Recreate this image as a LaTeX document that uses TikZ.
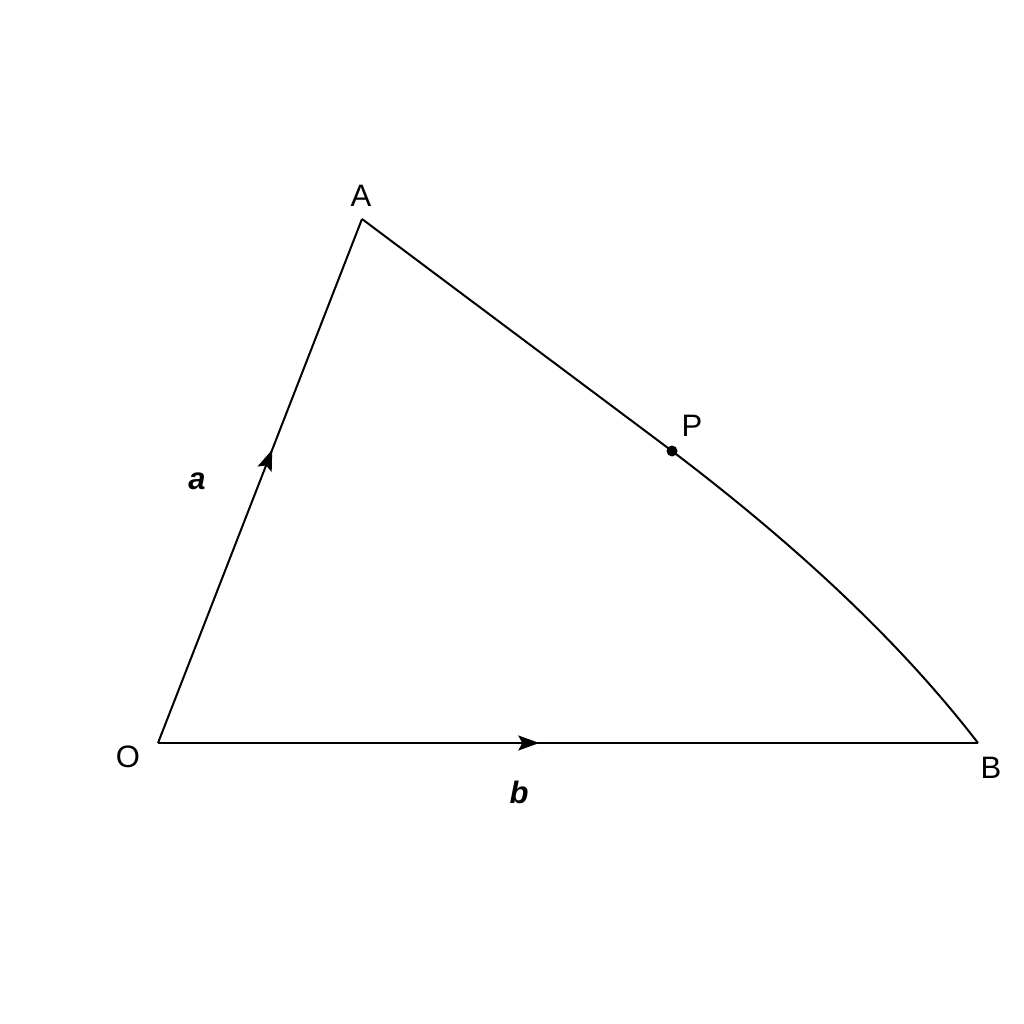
\documentclass[tikz,border=0pt]{standalone}
\usepackage{fontspec}
\setmainfont{Liberation Sans}
\usetikzlibrary{arrows.meta,decorations.markings}
\tikzset{
  edge/.style={line width=2pt, line join=miter},
  lbl/.style={font=\fontsize{31}{37}\selectfont, inner sep=0pt},
  vlbl/.style={font=\fontsize{31}{37}\selectfont\bfseries\itshape, inner sep=0pt},
  midarrow/.style={postaction={decorate}, decoration={markings,
     mark=at position #1 with {\arrow{Stealth[length=21pt,width=15pt,inset=4pt]}}}},
  dotp/.style={circle, fill=black, inner sep=0pt, minimum size=11pt}
}
\begin{document}
\begin{tikzpicture}[x=1pt,y=-1pt]
\useasboundingbox (0,0) rectangle (1024,1024);
\coordinate (O) at (158,743);
\coordinate (A) at (362,219);
\coordinate (B) at (978,743);
\coordinate (P) at (672,451);
\draw[edge, midarrow=0.56] (O) -- (A);
\draw[edge, midarrow=0.465] (O) -- (B);
\draw[edge] (A) -- (P) .. controls (772,527) and (888,626) .. (B);
\node[dotp] (Pdot) at (P) {};
\node[lbl] (lA) at (361,196) {A};
\node[lbl] (lO) at (128,757) {O};
\node[lbl] (lB) at (991,768) {B};
\node[lbl] (lP) at (692,426) {P};
\node[vlbl] (la) at (197,481) {a};
\node[vlbl] (lb) at (519,792) {b};
\end{tikzpicture}
\end{document}
